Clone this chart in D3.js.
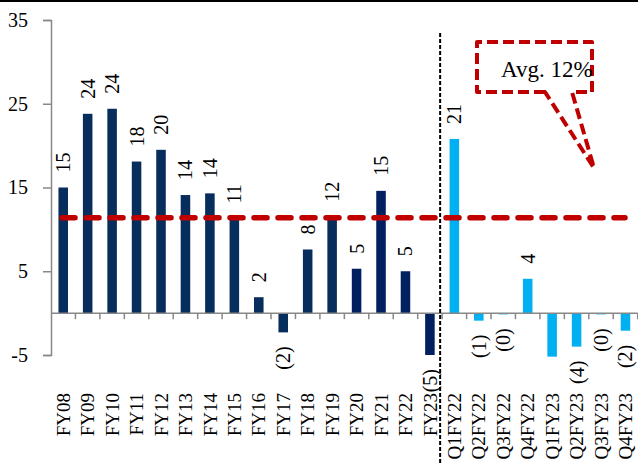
<!DOCTYPE html>
<html>
<head>
<meta charset="utf-8">
<script src="https://cdn.jsdelivr.net/npm/d3@7"></script>
<style>
  html, body { margin: 0; padding: 0; background: #fff; }
  svg { display: block; font-family: "Palatino Linotype", "Book Antiqua", Palatino, "Liberation Serif", serif; }
</style>
</head>
<body>
<svg id="chart" width="638" height="464"></svg>
<script>
// ---- data ----
const categories = ["FY08","FY09","FY10","FY11","FY12","FY13","FY14","FY15","FY16","FY17","FY18","FY19","FY20","FY21","FY22","FY23",
                    "Q1FY22","Q2FY22","Q3FY22","Q4FY22","Q1FY23","Q2FY23","Q3FY23","Q4FY23"];
const values = [15.0, 23.8, 24.4, 18.1, 19.5, 14.1, 14.3, 11.3, 1.9, -2.3, 7.6, 11.5, 5.3, 14.6, 5.0, -5.0,
                20.8, -0.9, -0.15, 4.1, -5.2, -4.0, -0.15, -2.1];
const valueLabels = ["15","24","24","18","20","14","14","11","2","(2)","8","12","5","15","5","(5)",
                     "21","(1)","(0)","4","","(4)","(0)","(2)"];
const seriesGroup = ["annual","annual","annual","annual","annual","annual","annual","annual","annual","annual","annual","annual",
                     "annual2","annual2","annual2","annual2",
                     "quarter","quarter","quarter","quarter","quarter","quarter","quarter","quarter"];
const yTicks = [-5, 5, 15, 25, 35];
const averageValue = 11.4;
const calloutText = "Avg. 12%";

// ---- layout ----
const svg = d3.select("#chart");
const W = 638, H = 464;
const x0 = 51, x1 = 637.7;
const yTop = 20, yBot = 355;
const font = '"Palatino Linotype", "Book Antiqua", Palatino, "Liberation Serif", serif';
const colors = { annual: "#062d5b", annual2: "#002060", quarter: "#00b0f0" };
const axisColor = "#888888";

const x = d3.scaleBand().domain(categories).range([x0, x1]).paddingInner(0.61).paddingOuter(0.305);
const y = d3.scaleLinear().domain([-5, 35]).range([yBot, yTop]);
const step = x.step();

// top black border line
svg.append("line").attr("x1", 0).attr("x2", W).attr("y1", 1).attr("y2", 1)
  .attr("stroke", "#000").attr("stroke-width", 2);

// y axis
const yAxis = svg.append("g").attr("transform", `translate(${x0},0)`)
  .call(d3.axisLeft(y).tickValues(yTicks).tickSize(8).tickPadding(15).tickFormat(d => String(d)));
yAxis.select(".domain").attr("stroke", axisColor).attr("stroke-width", 1.5);
yAxis.selectAll(".tick line").attr("stroke", axisColor).attr("stroke-width", 1.5);
yAxis.selectAll(".tick text").attr("font-family", font).attr("font-size", 20).attr("fill", "#000");

// bars
svg.append("g").selectAll("rect").data(categories).join("rect")
  .attr("x", d => x(d))
  .attr("width", x.bandwidth())
  .attr("y", (d, i) => y(Math.max(0, values[i])))
  .attr("height", (d, i) => Math.abs(y(values[i]) - y(0)))
  .attr("fill", (d, i) => colors[seriesGroup[i]]);

// x axis (zero line) with ticks at band boundaries
const zeroY = y(0);
svg.append("line").attr("x1", x0).attr("x2", x1).attr("y1", zeroY).attr("y2", zeroY)
  .attr("stroke", axisColor).attr("stroke-width", 1.5);
const boundaries = categories.map((d, i) => x0 + step * (i + 1));
svg.append("g").selectAll("line").data(boundaries).join("line")
  .attr("x1", d => d).attr("x2", d => d)
  .attr("y1", zeroY).attr("y2", zeroY + 6)
  .attr("stroke", axisColor).attr("stroke-width", 1.5);

// category labels (rotated)
svg.append("g").selectAll("text").data(categories).join("text")
  .attr("transform", d => `translate(${x(d) + x.bandwidth() / 2},393) rotate(-90)`)
  .attr("dy", "0.35em")
  .attr("text-anchor", "end")
  .attr("font-family", font).attr("font-size", 19).attr("fill", "#000")
  .text(d => d);

// value labels (rotated)
svg.append("g").selectAll("text").data(categories).join("text")
  .attr("transform", (d, i) => {
    const v = values[i];
    const cy = v >= 0 ? y(v) - 15 : y(v) + 14;
    return `translate(${x(d) + x.bandwidth() / 2},${cy}) rotate(-90)`;
  })
  .attr("dy", "0.35em")
  .attr("text-anchor", (d, i) => values[i] >= 0 ? "start" : "end")
  .attr("font-family", font).attr("font-size", 20).attr("fill", "#000")
  .text((d, i) => valueLabels[i]);

// vertical dashed separator between annual and quarterly
const sepX = x("Q1FY22") - (step - x.bandwidth()) / 2 - 2;
svg.append("line").attr("x1", sepX).attr("x2", sepX).attr("y1", 33).attr("y2", H)
  .attr("stroke", "#000").attr("stroke-width", 2).attr("stroke-dasharray", "4 2");

// average dashed line
const avgY = y(averageValue);
svg.append("line")
  .attr("x1", x0 + 11).attr("x2", 625)
  .attr("y1", avgY).attr("y2", avgY)
  .attr("stroke", "#c00000").attr("stroke-width", 5.5)
  .attr("stroke-linecap", "round").attr("stroke-dasharray", "13 11");

// callout
const box = { l: 477, r: 592, t: 42, b: 92 };
const wedge = { a: 545, c: 572, tipX: 594, tipY: 168 };
const p = d3.path();
p.moveTo(wedge.a, box.b);
p.lineTo(box.l, box.b);
p.lineTo(box.l, box.t);
p.lineTo(box.r, box.t);
p.lineTo(box.r, box.b);
p.lineTo(wedge.c, box.b);
p.lineTo(wedge.tipX, wedge.tipY);
p.closePath();
svg.append("path").attr("d", p.toString())
  .attr("fill", "none").attr("stroke", "#c00000").attr("stroke-width", 4)
  .attr("stroke-dasharray", "11 5").attr("stroke-linejoin", "round");
svg.append("text").attr("x", 501).attr("y", 77)
  .attr("font-family", font).attr("font-size", 23).attr("fill", "#000")
  .text(calloutText);
</script>
</body>
</html>
